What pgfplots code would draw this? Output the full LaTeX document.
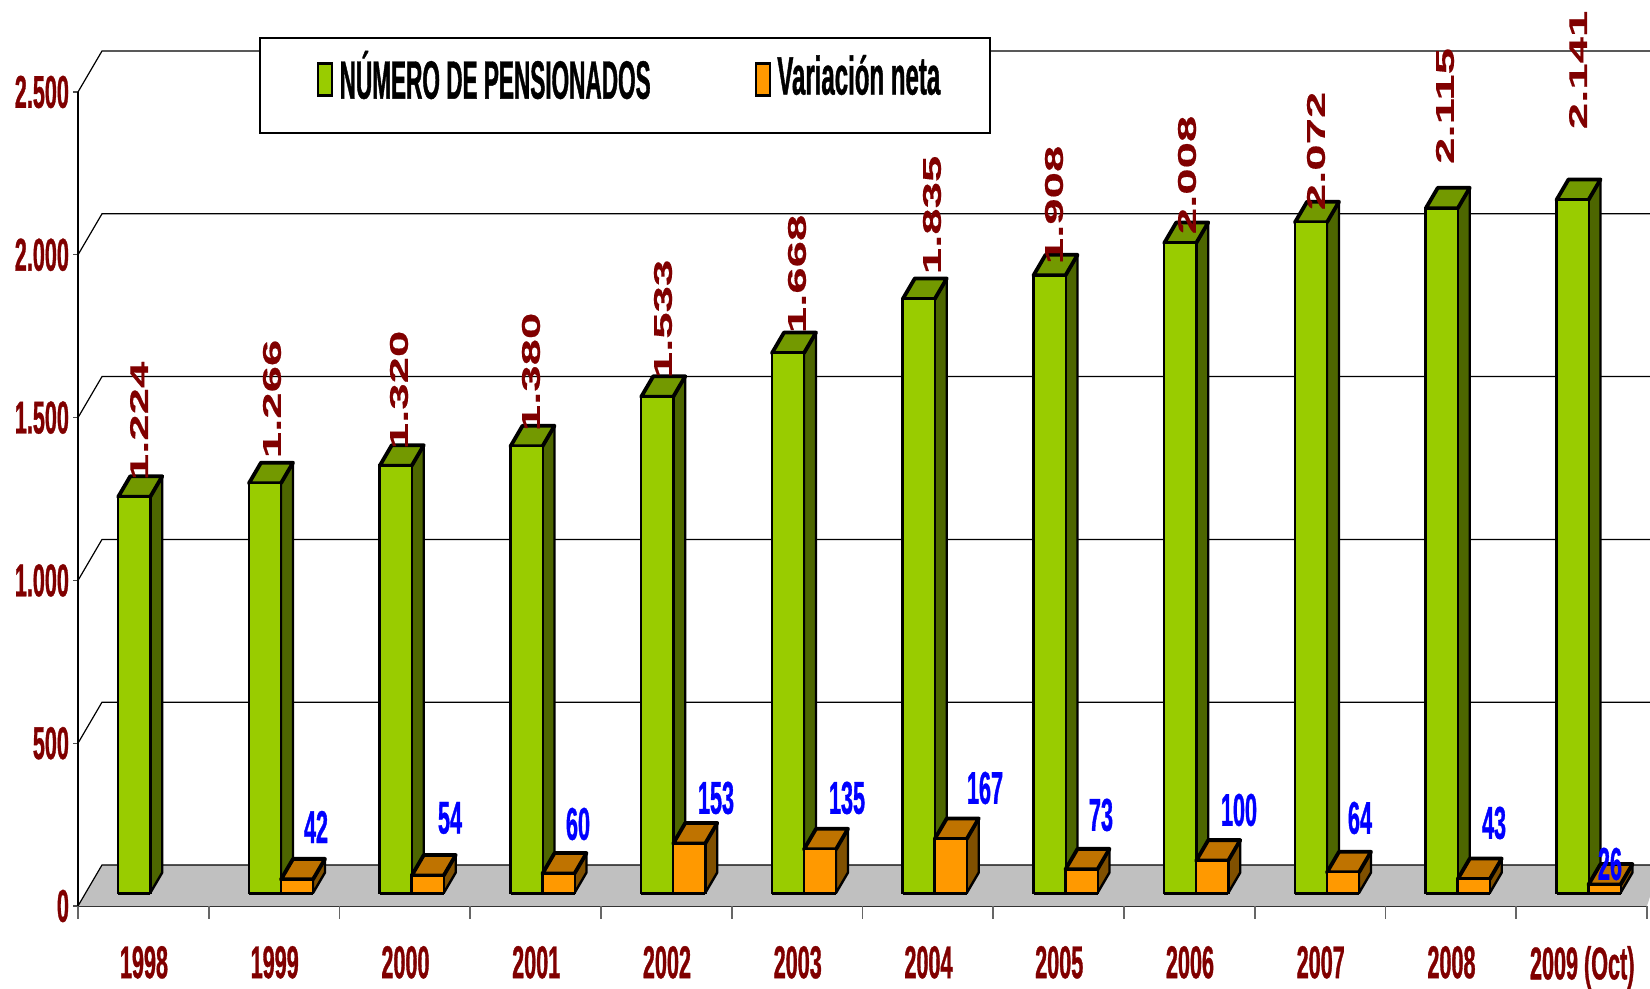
\documentclass[border=0pt]{standalone}
\usepackage{fontspec}
\usepackage{pgfplots}
\pgfplotsset{compat=1.18}
\setmainfont{Liberation Sans}
\newfontfamily\nar[FakeStretch=0.47,FakeBold=0.7]{Liberation Sans}
\newfontfamily\lega[FakeStretch=0.418,FakeBold=0.7]{Liberation Sans}
\newfontfamily\legb[FakeStretch=0.445,FakeBold=0.7]{Liberation Sans}
\newfontfamily\wid[FakeStretch=1.85,FakeBold=0.5]{Liberation Sans}
\definecolor{dred}{HTML}{800000}
\definecolor{gfront}{HTML}{99CC00}
\definecolor{gside}{HTML}{4D6600}
\definecolor{gtop}{HTML}{739900}
\definecolor{ofront}{HTML}{FF9900}
\definecolor{oside}{HTML}{805000}
\definecolor{otop}{HTML}{BF7300}
\definecolor{floorc}{HTML}{C0C0C0}
% depth of a bar, in axis units
\def\ddx{0.0918}
\def\ddy{63.3}
\def\wb{0.2447}
\newcommand{\solid}[5]{% left x, value, front, side, top colours
  \pgfmathsetmacro\xa{#1}
  \pgfmathsetmacro\xb{#1+\wb}
  \pgfmathsetmacro\xc{#1+\wb+\ddx}
  \pgfmathsetmacro\xd{#1+\ddx}
  \pgfmathsetmacro\yt{#2+\ddy}
  \addplot[forget plot,fill=#4,draw=black,line width=1.2pt,line join=round] coordinates {(\xb,0)(\xc,\ddy)(\xc,\yt)(\xb,#2)} -- cycle;
  \addplot[forget plot,fill=#5,draw=black,line width=1.9pt,line join=round] coordinates {(\xa,#2)(\xb,#2)(\xc,\yt)(\xd,\yt)} -- cycle;
  \addplot[forget plot,draw=black,line width=2.2pt] coordinates {(\xa,0)(\xb,0)};
}
\begin{document}
\begin{tikzpicture}
\useasboundingbox (0,0) rectangle (825pt,494.5pt);
\begin{axis}[
  at={(39pt,41.5pt)}, anchor=south west,
  scale only axis, width=784.5pt, height=407pt,
  xmin=0, xmax=12, ymin=-40.2, ymax=2474.4,
  clip=false,
  axis x line*=bottom, axis y line*=left,
  x axis line style={draw=black!80,line width=1pt},
  y axis line style={draw=black,line width=.6pt},
  tick align=outside,
  major tick length=2.5pt,
  ytick={-40.2,462.7,965.5,1468.5,1971.4,2474.4},
  yticklabels={0,500,{1.000},{1.500},{2.000},{2.500}},
  xtick={0.5,1.5,2.5,3.5,4.5,5.5,6.5,7.5,8.5,9.5,10.5,11.5},
  xticklabels={1998,1999,2000,2001,2002,2003,2004,2005,2006,2007,2008,2009 (Oct)},
  xtick style={draw=none},
  ytick style={draw=black!70,line width=.6pt},
  extra x ticks={0,1,2,3,4,5,6,7,8,9,10,11,12},
  extra x tick labels={},
  extra x tick style={major tick length=6.5pt,xtick style={draw=black!60,line width=.8pt}},
  tick label style={font=\nar\bfseries\fontsize{23}{23}\selectfont,text=dred},
  xticklabel style={yshift=-14pt,xshift=0.3pt},
  yticklabel style={xshift=1.5pt},
  legend columns=2,
  legend cell align=left,
  legend style={at={(axis cs:4.184,2523)},anchor=center,draw=none,fill=none,
    font=\bfseries\fontsize{27}{27}\selectfont,text=black,
    inner xsep=22pt,inner ysep=4.25pt,
    /tikz/every even column/.append style={column sep=50pt}},
]
\addlegendimage{legend image code/.code={\draw[fill=gfront,draw=black,line width=1.2pt] (0pt,-9.6pt) rectangle (7pt,6.4pt);\path (-6pt,0pt) (8.5pt,0pt);}}
\addlegendentry{\lega NÚMERO DE PENSIONADOS}
\addlegendimage{legend image code/.code={\draw[fill=ofront,draw=black,line width=1.2pt] (0pt,-9.6pt) rectangle (7pt,6.4pt);\path (8.5pt,0pt);}}
\addlegendentry{\legb Variación neta}

% floor
\addplot[forget plot,fill=floorc,draw=none] coordinates {(0,-40.2)(0.1836,86.5)(12.1,86.5)(12,-40.2)} -- cycle;
% back wall grid lines
\addplot[forget plot,draw=black,line width=.6pt] coordinates {(0,-40.2)(0.1836,86.5)(12.1,86.5)};
\addplot[forget plot,draw=black,line width=.6pt] coordinates {(0,462.7)(0.1836,589.4)(12.1,589.4)};
\addplot[forget plot,draw=black,line width=.6pt] coordinates {(0,965.5)(0.1836,1092.2)(12.1,1092.2)};
\addplot[forget plot,draw=black,line width=.6pt] coordinates {(0,1468.5)(0.1836,1595.2)(12.1,1595.2)};
\addplot[forget plot,draw=black,line width=.6pt] coordinates {(0,1971.4)(0.1836,2098.1)(12.1,2098.1)};
\addplot[forget plot,draw=black,line width=.6pt] coordinates {(0,2474.4)(0.1836,2601.1)(12.1,2601.1)};
% legend frame
\addplot[forget plot,fill=white,draw=black,line width=.6pt] coordinates {(1.392,2641)(6.975,2641)(6.975,2348)(1.392,2348)} -- cycle;

% green bars: sides and tops
\solid{0.308}{1224}{gfront}{gside}{gtop}
\solid{1.308}{1266}{gfront}{gside}{gtop}
\solid{2.308}{1320}{gfront}{gside}{gtop}
\solid{3.308}{1380}{gfront}{gside}{gtop}
\solid{4.308}{1533}{gfront}{gside}{gtop}
\solid{5.308}{1668}{gfront}{gside}{gtop}
\solid{6.308}{1835}{gfront}{gside}{gtop}
\solid{7.308}{1908}{gfront}{gside}{gtop}
\solid{8.308}{2008}{gfront}{gside}{gtop}
\solid{9.308}{2072}{gfront}{gside}{gtop}
\solid{10.308}{2115}{gfront}{gside}{gtop}
\solid{11.308}{2141}{gfront}{gside}{gtop}
\addplot[forget plot,ybar,bar shift=0pt,bar width=16.2pt,fill=gfront,draw=black,line width=1.2pt] coordinates {
(0.4305,1224)(1.4305,1266)(2.4305,1320)(3.4305,1380)(4.4305,1533)(5.4305,1668)
(6.4305,1835)(7.4305,1908)(8.4305,2008)(9.4305,2072)(10.4305,2115)(11.4305,2141)};

% orange bars
\solid{1.5527}{42}{ofront}{oside}{otop}
\solid{2.5527}{54}{ofront}{oside}{otop}
\solid{3.5527}{60}{ofront}{oside}{otop}
\solid{4.5527}{153}{ofront}{oside}{otop}
\solid{5.5527}{135}{ofront}{oside}{otop}
\solid{6.5527}{167}{ofront}{oside}{otop}
\solid{7.5527}{73}{ofront}{oside}{otop}
\solid{8.5527}{100}{ofront}{oside}{otop}
\solid{9.5527}{64}{ofront}{oside}{otop}
\solid{10.5527}{43}{ofront}{oside}{otop}
\solid{11.5527}{26}{ofront}{oside}{otop}
\addplot[forget plot,ybar,bar shift=0pt,bar width=16.2pt,fill=ofront,draw=black,line width=1.2pt] coordinates {
(1.675,42)(2.675,54)(3.675,60)(4.675,153)(5.675,135)(6.675,167)
(7.675,73)(8.675,100)(9.675,64)(10.675,43)(11.675,26)};

% rotated value labels of the first series (position in picture pixels, text)
\addplot[forget plot,draw=none,mark=none,point meta=explicit symbolic,
  nodes near coords,
  nodes near coords style={anchor=center,rotate=90,inner sep=0pt,text=dred,
    font=\wid\bfseries\fontsize{12.8}{13}\selectfont}]
  table[x expr=(\thisrow{px}-78)/130.75,y expr=(893-\thisrow{py})/0.3237,meta=l] {
px py l
139 421 1.224
272 399 1.266
399 390 1.320
531 372 1.380
663 319 1.533
797 274 1.668
932 215 1.835
1054 205 1.908
1187 175 2.008
1316 151 2.072
1445 106 2.115
1578 70 2.141
};
% value labels of the second series
\addplot[forget plot,draw=none,mark=none,point meta=explicit symbolic,
  nodes near coords,
  nodes near coords style={anchor=center,inner sep=0pt,text=blue,
    font=\nar\bfseries\fontsize{23}{23}\selectfont}]
  table[x expr=(\thisrow{px}-78)/130.75,y expr=(893-\thisrow{py})/0.3237,meta=l] {
px py l
316 827 42
450 818 54
578 824 60
716 798 153
847 798 135
985 788 167
1101 815 73
1239 810 100
1360 818 64
1494 823 43
1610 864 26
};
\end{axis}
\end{tikzpicture}
\end{document}
